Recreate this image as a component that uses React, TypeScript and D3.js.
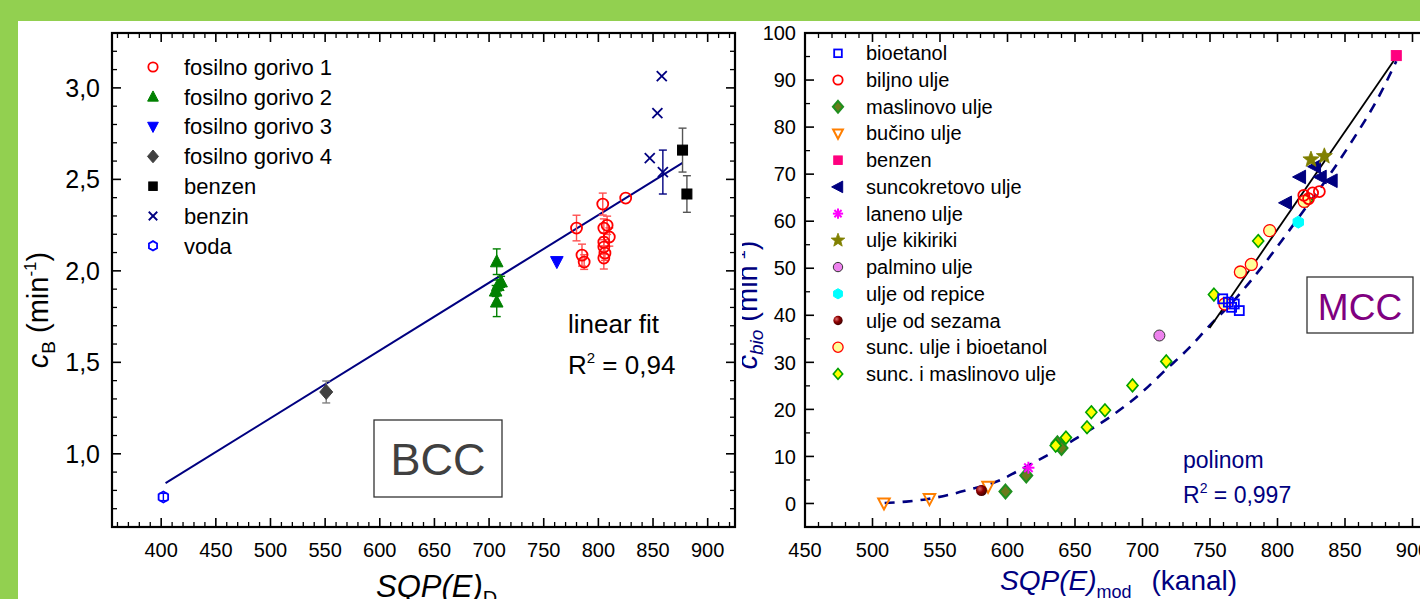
import React from 'react';
import * as d3 from 'd3';

const W = 1420;
const H = 599;
const GREEN = '#92D050';
const NAVY = '#000080';
const FONT = "'Liberation Sans', Arial, sans-serif";

// ---------------- BCC (left chart) ----------------
const bccXTicks = [400, 450, 500, 550, 600, 650, 700, 750, 800, 850, 900];
const bccYTicks = [1.0, 1.5, 2.0, 2.5, 3.0];
const bccYTickLabels = ['1,0', '1,5', '2,0', '2,5', '3,0'];

const fg1X = [780, 785, 787, 804, 805, 808, 805, 810, 805, 806, 805, 825];
const fg1Y = [2.234, 2.086, 2.048, 2.365, 2.234, 2.249, 2.157, 2.185, 2.13, 2.097, 2.07, 2.398];
const fg1E = [0.07, 0.06, 0.04, 0.06, 0.05, 0.05, 0.05, 0.05, 0.04, 0.04, 0.06, 0];

const fg2X = [707, 711, 708, 706, 707];
const fg2Y = [2.05, 1.94, 1.92, 1.89, 1.83];
const fg2E = [0.07, 0.03, 0.03, 0.03, 0.08];

const fg3X = [762];
const fg3Y = [2.05];

const fg4X = [551];
const fg4Y = [1.338];
const fg4E = [0.06];

const benzenX = [877, 881];
const benzenY = [2.66, 2.42];
const benzenE = [0.12, 0.1];

const benzinX = [847, 854, 858, 859];
const benzinY = [2.616, 2.862, 3.064, 2.54];
const benzinE = [0, 0, 0, 0.12];

const vodaX = [402];
const vodaY = [0.764];
const vodaE = [0.02];

const linFitX = [404, 877];
const linFitY = [0.84, 2.59];

const bccLegend = ['fosilno gorivo 1', 'fosilno gorivo 2', 'fosilno gorivo 3', 'fosilno gorivo 4', 'benzen', 'benzin', 'voda'];

// ---------------- MCC (right chart) ----------------
const mccXTicks = [450, 500, 550, 600, 650, 700, 750, 800, 850, 900];
const mccYTicks = [0, 10, 20, 30, 40, 50, 60, 70, 80, 90, 100];

const bioetanolX = [759.4, 763.6, 766, 768, 771.7];
const bioetanolY = [43.5, 42.8, 41.7, 42.4, 41.0];

const biljnoX = [819.5, 823, 826, 831];
const biljnoY = [65.5, 64.8, 66.0, 66.3];

const maslinovoX = [598.5, 613.9, 637, 640];
const maslinovoY = [2.55, 5.95, 12.8, 11.8];

const bucinoX = [508.5, 542.2, 585.6];
const bucinoY = [0.07, 1.0, 3.6];

const benzenRX = [888];
const benzenRY = [95.2];

const suncX = [806.3, 816.7, 827.8, 832, 840.1];
const suncY = [63.9, 69.4, 71.6, 69.4, 68.6];

const lanenoX = [615.5];
const lanenoY = [7.6];

const kikirikiX = [824.8, 834.7];
const kikirikiY = [73.1, 73.8];

const palminoX = [712.5];
const palminoY = [35.7];

const repiceX = [815.4];
const repiceY = [59.8];

const sezamaX = [580.7];
const sezamaY = [2.76];

const suncBioX = [761, 772.5, 780.6, 794.2, 819.8];
const suncBioY = [42.4, 49.2, 50.8, 58.0, 64.2];

const suncMaslX = [635.7, 643.3, 658.9, 662.1, 672.2, 692.6, 717.6, 752.9, 785.7, 822];
const suncMaslY = [12.3, 14.0, 16.2, 19.4, 19.8, 25.1, 30.2, 44.4, 55.8, 64.4];

const polyX = [509, 525, 540, 556, 571, 595, 607, 633, 649, 662, 675, 701, 715, 736, 749, 766, 783, 803, 820, 839, 854, 876, 888];
const polyY = [0.1, 0.4, 0.9, 1.8, 2.9, 5.0, 6.8, 10.8, 13.5, 15.8, 18.2, 24.0, 27.8, 33.5, 37.6, 42.6, 48.3, 55.8, 62.5, 70.0, 76.5, 87.0, 94.0];

const mccLineX = [749.7, 887.8];
const mccLineY = [37.3, 94.8];

const mccLegend = [
  'bioetanol', 'biljno ulje', 'maslinovo ulje', 'bučino ulje', 'benzen', 'suncokretovo ulje',
  'laneno ulje', 'ulje kikiriki', 'palmino ulje', 'ulje od repice', 'ulje od sezama',
  'sunc. ulje i bioetanol', 'sunc. i maslinovo ulje',
];

// ---------------- helpers ----------------
type Style = { kind: string; fill: string; stroke: string; sw?: number; r?: number };

function starPath(R: number, r: number) {
  const pts: string[] = [];
  for (let i = 0; i < 10; i++) {
    const a = -Math.PI / 2 + (i * Math.PI) / 5;
    const rr = i % 2 === 0 ? R : r;
    pts.push(`${(rr * Math.cos(a)).toFixed(2)},${(rr * Math.sin(a)).toFixed(2)}`);
  }
  return 'M' + pts.join('L') + 'Z';
}
function hexPath(r: number) {
  const pts: string[] = [];
  for (let i = 0; i < 6; i++) {
    const a = -Math.PI / 2 + (i * Math.PI) / 3;
    pts.push(`${(r * Math.cos(a)).toFixed(2)},${(r * Math.sin(a)).toFixed(2)}`);
  }
  return 'M' + pts.join('L') + 'Z';
}

function Marker({ st, cx, cy }: { st: Style; cx: number; cy: number }) {
  const s = st.r ?? 6;
  const sw = st.sw ?? 1.8;
  const common = { fill: st.fill, stroke: st.stroke, strokeWidth: sw };
  const t = `translate(${cx},${cy})`;
  switch (st.kind) {
    case 'circle':
      return <circle cx={cx} cy={cy} r={s} {...common} />;
    case 'sphere':
      return <circle cx={cx} cy={cy} r={s} fill="url(#sphere)" stroke="none" />;
    case 'square':
      return <rect x={cx - s} y={cy - s} width={2 * s} height={2 * s} {...common} />;
    case 'triUp':
      return <path transform={t} d={`M0,${-s * 1.15}L${s * 1.05},${s * 0.85}L${-s * 1.05},${s * 0.85}Z`} {...common} />;
    case 'triDown':
      return <path transform={t} d={`M0,${s * 1.15}L${s * 1.05},${-s * 0.85}L${-s * 1.05},${-s * 0.85}Z`} {...common} />;
    case 'triLeft':
      return <path transform={t} d={`M${-s * 1.15},0L${s * 0.85},${-s * 1.05}L${s * 0.85},${s * 1.05}Z`} {...common} />;
    case 'diamond':
      return <path transform={t} d={`M0,${-s * 1.15}L${s},0L0,${s * 1.15}L${-s},0Z`} {...common} />;
    case 'hex':
      return <path transform={t} d={hexPath(s)} {...common} />;
    case 'star':
      return <path transform={t} d={starPath(s * 1.3, s * 0.55)} {...common} />;
    case 'x':
      return (
        <g transform={t} stroke={st.stroke} strokeWidth={sw}>
          <line x1={-s} y1={-s} x2={s} y2={s} />
          <line x1={-s} y1={s} x2={s} y2={-s} />
        </g>
      );
    case 'asterisk':
      return (
        <g transform={t} stroke={st.stroke} strokeWidth={sw}>
          <line x1={0} y1={-s} x2={0} y2={s} />
          <line x1={-s} y1={0} x2={s} y2={0} />
          <line x1={-s * 0.7} y1={-s * 0.7} x2={s * 0.7} y2={s * 0.7} />
          <line x1={-s * 0.7} y1={s * 0.7} x2={s * 0.7} y2={-s * 0.7} />
        </g>
      );
    default:
      return null;
  }
}

function Frame({ x, y, xMajor, xMinor, yMajor, yMinor }: any) {
  const [x0, x1] = x.range();
  const [y0, y1] = y.range();
  const lines: any[] = [];
  const add = (k: string, a: number, b: number, c: number, d: number, w: number) =>
    lines.push(<line key={k} x1={a} y1={b} x2={c} y2={d} stroke="#000" strokeWidth={w} />);
  xMajor.forEach((v: number, i: number) => {
    add('xb' + i, x(v), y0, x(v), y0 - 9, 1.6);
    add('xt' + i, x(v), y1, x(v), y1 + 9, 1.6);
  });
  xMinor.forEach((v: number, i: number) => {
    add('xbm' + i, x(v), y0, x(v), y0 - 5, 1.3);
    add('xtm' + i, x(v), y1, x(v), y1 + 5, 1.3);
  });
  yMajor.forEach((v: number, i: number) => {
    add('yl' + i, x0, y(v), x0 + 9, y(v), 1.6);
    add('yr' + i, x1, y(v), x1 - 9, y(v), 1.6);
  });
  yMinor.forEach((v: number, i: number) => {
    add('ylm' + i, x0, y(v), x0 + 5, y(v), 1.3);
    add('yrm' + i, x1, y(v), x1 - 5, y(v), 1.3);
  });
  return (
    <g>
      {lines}
      <rect x={x0} y={y1} width={x1 - x0} height={y0 - y1} fill="none" stroke="#000" strokeWidth={2.2} />
    </g>
  );
}

function ErrBars({ xs, ys, es, x, y, color }: any) {
  return (
    <g stroke={color} strokeWidth={1.4}>
      {xs.map((xv: number, i: number) =>
        es[i] > 0 ? (
          <g key={i}>
            <line x1={x(xv)} x2={x(xv)} y1={y(ys[i] - es[i])} y2={y(ys[i] + es[i])} />
            <line x1={x(xv) - 4} x2={x(xv) + 4} y1={y(ys[i] - es[i])} y2={y(ys[i] - es[i])} />
            <line x1={x(xv) - 4} x2={x(xv) + 4} y1={y(ys[i] + es[i])} y2={y(ys[i] + es[i])} />
          </g>
        ) : null
      )}
    </g>
  );
}

function Points({ xs, ys, x, y, st }: any) {
  return (
    <g>
      {xs.map((xv: number, i: number) => (
        <Marker key={i} st={st} cx={x(xv)} cy={y(ys[i])} />
      ))}
    </g>
  );
}

const zip = (a: number[], b: number[]) => a.map((v, i) => [v, b[i]] as [number, number]);

export default function App() {
  const xL = d3.scaleLinear().domain([355, 925]).range([112, 735]);
  const yL = d3.scaleLinear().domain([0.6, 3.3]).range([527, 33]);
  const xR = d3.scaleLinear().domain([450, 915]).range([805, 805 + 465 * 1.35]);
  const yR = d3.scaleLinear().domain([-5, 100]).range([527, 33]);

  const bccXMinor = d3.range(360, 925, 10).filter((v) => v % 50 !== 0);
  const bccYMinor = d3.range(6, 34, 1).map((v) => v / 10).filter((v) => Math.round(v * 10) % 5 !== 0);
  const mccXMinor = d3.range(460, 915, 10).filter((v) => v % 50 !== 0);
  const mccYMinor = d3.range(-5, 100, 10);

  const bccStyles: Style[] = [
    { kind: 'circle', fill: 'none', stroke: '#FF0000', r: 5.5, sw: 1.8 },
    { kind: 'triUp', fill: '#008000', stroke: '#008000', r: 6, sw: 1 },
    { kind: 'triDown', fill: '#0000FF', stroke: '#0000FF', r: 6, sw: 1 },
    { kind: 'diamond', fill: '#404040', stroke: '#404040', r: 6.5, sw: 1 },
    { kind: 'square', fill: '#000', stroke: '#000', r: 5, sw: 1 },
    { kind: 'x', fill: 'none', stroke: NAVY, r: 5, sw: 1.8 },
    { kind: 'hex', fill: 'none', stroke: '#0000FF', r: 5.5, sw: 1.8 },
  ];
  const bccLegendStyles: Style[] = bccStyles.map((s) => ({ ...s, r: (s.r ?? 6) * 0.85 }));

  const mccStyles: Style[] = [
    { kind: 'square', fill: 'none', stroke: '#0000FF', r: 4.5, sw: 1.8 },
    { kind: 'circle', fill: 'none', stroke: '#FF0000', r: 5.5, sw: 1.8 },
    { kind: 'diamond', fill: '#6b7a1a', stroke: '#1f8f1f', r: 6, sw: 2 },
    { kind: 'triDown', fill: 'none', stroke: '#FF7F00', r: 5.5, sw: 2 },
    { kind: 'square', fill: '#FF007F', stroke: '#FF007F', r: 5, sw: 1 },
    { kind: 'triLeft', fill: NAVY, stroke: NAVY, r: 6.5, sw: 1 },
    { kind: 'asterisk', fill: 'none', stroke: '#FF00FF', r: 6, sw: 2 },
    { kind: 'star', fill: '#808000', stroke: '#808000', r: 6.5, sw: 0.8 },
    { kind: 'circle', fill: '#EE82EE', stroke: '#333', r: 5.5, sw: 1 },
    { kind: 'hex', fill: '#00FFFF', stroke: '#00FFFF', r: 6, sw: 1 },
    { kind: 'sphere', fill: '#800000', stroke: 'none', r: 5.5 },
    { kind: 'circle', fill: '#FFFF99', stroke: '#FF0000', r: 6, sw: 1.3 },
    { kind: 'diamond', fill: '#FFFF00', stroke: '#00A000', r: 5.5, sw: 1.6 },
  ];
  const mccLegendStyles: Style[] = mccStyles.map((s) => ({ ...s, r: (s.r ?? 6) * 0.85 }));

  const mccSeries = [
    [bioetanolX, bioetanolY],
    [biljnoX, biljnoY],
    [maslinovoX, maslinovoY],
    [bucinoX, bucinoY],
    [benzenRX, benzenRY],
    [suncX, suncY],
    [lanenoX, lanenoY],
    [kikirikiX, kikirikiY],
    [palminoX, palminoY],
    [repiceX, repiceY],
    [sezamaX, sezamaY],
    [suncBioX, suncBioY],
    [suncMaslX, suncMaslY],
  ];
  // draw order (back to front)
  const mccOrder = [3, 10, 2, 6, 12, 8, 11, 0, 9, 1, 5, 7, 4];

  const lineL = d3.line<[number, number]>().x((d) => xL(d[0])).y((d) => yL(d[1]));
  const lineR = d3.line<[number, number]>().x((d) => xR(d[0])).y((d) => yR(d[1]));
  const polyR = d3
    .line<[number, number]>()
    .x((d) => xR(d[0]))
    .y((d) => yR(d[1]))
    .curve(d3.curveMonotoneX);

  return (
    <svg
      width={W}
      height={H}
      style={{ position: 'absolute', left: 0, top: 0, display: 'block' }}
      fontFamily={FONT}
    >
      <defs>
        <radialGradient id="sphere" cx="35%" cy="35%" r="70%">
          <stop offset="0" stopColor="#e07070" />
          <stop offset="0.45" stopColor="#900000" />
          <stop offset="1" stopColor="#3a0000" />
        </radialGradient>
        <clipPath id="cbioClip">
          <rect x={742} y={20} width={30} height={560} />
        </clipPath>
      </defs>
      <rect x={0} y={0} width={W} height={H} fill={GREEN} />
      <rect x={18} y={21} width={W - 18} height={H - 21} fill="#fff" />

      {/* ===================== LEFT: BCC ===================== */}
      <Frame x={xL} y={yL} xMajor={bccXTicks} xMinor={bccXMinor} yMajor={bccYTicks} yMinor={bccYMinor} />
      {bccXTicks.map((v) => (
        <text key={v} x={xL(v)} y={557} fontSize={20} textAnchor="middle" fill="#000">
          {v}
        </text>
      ))}
      {bccYTicks.map((v, i) => (
        <text key={v} x={100} y={yL(v)} dy="0.36em" fontSize={25} textAnchor="end" fill="#000">
          {bccYTickLabels[i]}
        </text>
      ))}

      <path d={lineL(zip(linFitX, linFitY)) || ''} fill="none" stroke={NAVY} strokeWidth={2} />

      <ErrBars xs={fg1X} ys={fg1Y} es={fg1E} x={xL} y={yL} color="#FF5050" />
      <ErrBars xs={fg2X} ys={fg2Y} es={fg2E} x={xL} y={yL} color="#008000" />
      <ErrBars xs={fg4X} ys={fg4Y} es={fg4E} x={xL} y={yL} color="#808080" />
      <ErrBars xs={benzenX} ys={benzenY} es={benzenE} x={xL} y={yL} color="#555" />
      <ErrBars xs={benzinX} ys={benzinY} es={benzinE} x={xL} y={yL} color={NAVY} />
      <ErrBars xs={vodaX} ys={vodaY} es={vodaE} x={xL} y={yL} color="#0000FF" />

      <Points xs={fg1X} ys={fg1Y} x={xL} y={yL} st={bccStyles[0]} />
      <Points xs={fg2X} ys={fg2Y} x={xL} y={yL} st={bccStyles[1]} />
      <Points xs={fg3X} ys={fg3Y} x={xL} y={yL} st={bccStyles[2]} />
      <Points xs={fg4X} ys={fg4Y} x={xL} y={yL} st={bccStyles[3]} />
      <Points xs={benzenX} ys={benzenY} x={xL} y={yL} st={bccStyles[4]} />
      <Points xs={benzinX} ys={benzinY} x={xL} y={yL} st={bccStyles[5]} />
      <Points xs={vodaX} ys={vodaY} x={xL} y={yL} st={bccStyles[6]} />

      {bccLegend.map((name, i) => {
        const cy = 67 + i * 29.8;
        return (
          <g key={name}>
            <Marker st={bccLegendStyles[i]} cx={153} cy={cy} />
            <text x={184} y={cy} dy="0.35em" fontSize={22} fill="#000">
              {name}
            </text>
          </g>
        );
      })}

      <text x={568} y={333} fontSize={26} fill="#000">linear fit</text>
      <text x={568} y={374} fontSize={26} fill="#000">
        R<tspan dy={-11} fontSize={15}>2</tspan>
        <tspan dy={11}> = 0,94</tspan>
      </text>

      <rect x={374} y={420} width={128} height={77} fill="none" stroke="#333" strokeWidth={1.3} />
      <text x={438} y={475} fontSize={45} textAnchor="middle" fill="#404040">BCC</text>

      {/* Y label left */}
      <text transform="translate(48,310) rotate(-90)" fontSize={29} textAnchor="middle" fill="#000">
        <tspan fontStyle="italic">c</tspan>
        <tspan fontSize={19} dy={7}>B</tspan>
        <tspan dy={-7} dx={8}>(min</tspan>
        <tspan fontSize={17} dy={-12}>-1</tspan>
        <tspan dy={12}>)</tspan>
      </text>
      {/* X label left */}
      <text x={376} y={597} fontSize={31} fill="#000">
        <tspan fontStyle="italic">SQP(E)</tspan>
        <tspan fontSize={20} dy={8}>D</tspan>
      </text>

      {/* ===================== RIGHT: MCC ===================== */}
      <Frame x={xR} y={yR} xMajor={mccXTicks} xMinor={mccXMinor} yMajor={mccYTicks} yMinor={mccYMinor} />
      {mccXTicks.map((v) => (
        <text key={v} x={xR(v)} y={557} fontSize={20} textAnchor="middle" fill="#000">
          {v}
        </text>
      ))}
      {mccYTicks.map((v) => (
        <text key={v} x={796} y={yR(v)} dy="0.36em" fontSize={20} textAnchor="end" fill="#000">
          {v}
        </text>
      ))}

      <path
        d={polyR(zip(polyX, polyY)) || ''}
        fill="none"
        stroke={NAVY}
        strokeWidth={2.6}
        strokeDasharray="10 8"
      />
      <path d={lineR(zip(mccLineX, mccLineY)) || ''} fill="none" stroke="#000" strokeWidth={1.8} />

      {mccOrder.map((k) => (
        <Points key={k} xs={mccSeries[k][0]} ys={mccSeries[k][1]} x={xR} y={yR} st={mccStyles[k]} />
      ))}

      {mccLegend.map((name, i) => {
        const cy = 53.3 + i * 26.72;
        return (
          <g key={name}>
            <Marker st={mccLegendStyles[i]} cx={838} cy={cy} />
            <text x={866} y={cy} dy="0.35em" fontSize={20} fill="#000">
              {name}
            </text>
          </g>
        );
      })}

      <text x={1183} y={468} fontSize={23} fill={NAVY}>polinom</text>
      <text x={1183} y={503} fontSize={23} fill={NAVY}>
        R<tspan dy={-10} fontSize={14}>2</tspan>
        <tspan dy={10}> = 0,997</tspan>
      </text>

      <rect x={1307} y={277} width={106} height={56} fill="none" stroke="#333" strokeWidth={1.3} />
      <text x={1360} y={320} fontSize={37} textAnchor="middle" fill="#800080">MCC</text>

      {/* Y label right (partially hidden) */}
      <g clipPath="url(#cbioClip)">
        <text transform="translate(757,305) rotate(-90)" fontSize={29} textAnchor="middle" fill={NAVY}>
          <tspan fontStyle="italic">c</tspan>
          <tspan fontStyle="italic" fontSize={19} dy={6}>bio</tspan>
          <tspan dy={-6} dx={8}>(min</tspan>
          <tspan fontSize={17} dy={-12}>-1</tspan>
          <tspan dy={12}>)</tspan>
        </text>
      </g>
      {/* X label right */}
      <text x={1000} y={590} fontSize={28} fill={NAVY}>
        <tspan fontStyle="italic">SQP(E)</tspan>
        <tspan fontSize={18} dy={8}>mod</tspan>
        <tspan dy={-8} dx={20}>(kanal)</tspan>
      </text>
    </svg>
  );
}
